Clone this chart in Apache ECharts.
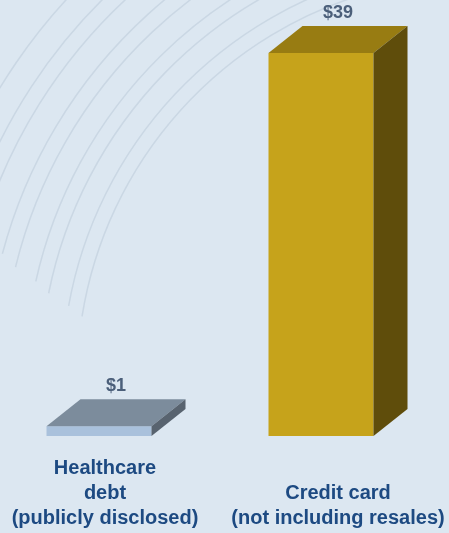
<!DOCTYPE html>
<html>
<head>
<meta charset="utf-8">
<script src="https://cdn.jsdelivr.net/npm/echarts@6/dist/echarts.min.js"></script>
<style>
  html, body { margin: 0; padding: 0; background: #dce7f1; }
  #chart { width: 449px; height: 533px; }
</style>
</head>
<body>
<div id="chart"></div>
<script>
// data (billions of dollars)
var categories = ['Healthcare\ndebt\n(publicly disclosed)', '\nCredit card\n(not including resales)'];
var values = [1, 39];
var valueLabels = ['$1', '$39'];

// face colours per bar: front, top, side
var frontColors = ['#a9c1dc', '#c6a31b'];
var topColors = ['#7c8c9c', '#987c12'];
var sideColors = ['#58636f', '#5f4d0b'];

var BAR_W = 105;
var DX = 34;
var DY = 27;

// faint background swirls
var arcs = [];
[403, 418, 440, 455, 478, 494, 520, 536, 562].forEach(function (r, i) {
  arcs.push({
    type: 'arc',
    silent: true,
    z: -10,
    shape: { cx: 480, cy: 380, r: r, startAngle: 3.3 + i * 0.02, endAngle: 4.45 + i * 0.02 },
    style: { fill: null, stroke: 'rgba(170,186,202,0.35)', lineWidth: 1.5 }
  });
});

var chart = echarts.init(document.getElementById('chart'));
var option = {
  backgroundColor: '#dce7f1',
  animation: false,
  graphic: arcs,
  grid: { left: 5, right: 0, top: 53, bottom: 97, outerBoundsMode: 'none', containLabel: false },
  xAxis: {
    type: 'category',
    data: categories.map(function (c, i) {
      return i === 0 ? { value: c, textStyle: { padding: [0, 22, 0, 0] } } : c;
    }),
    axisLine: { show: false },
    axisTick: { show: false },
    axisLabel: {
      interval: 0,
      color: '#1d4a82',
      fontFamily: 'Liberation Sans, Arial, sans-serif',
      fontWeight: 'bold',
      fontSize: 20,
      lineHeight: 25,
      margin: 20
    }
  },
  yAxis: {
    type: 'value',
    min: 0,
    max: 39,
    show: false,
    splitLine: { show: false }
  },
  series: [{
    type: 'custom',
    data: values.map(function (v, i) { return [i, v]; }),
    renderItem: function (params, api) {
      var i = params.dataIndex;
      var base = api.coord([api.value(0), 0]);
      var top = api.coord([api.value(0), api.value(1)]);
      var x0 = base[0] - (BAR_W + DX) / 2;
      var x1 = x0 + BAR_W;
      var yb = base[1];
      var yt = top[1];
      return {
        type: 'group',
        children: [
          {
            type: 'rect',
            shape: { x: x0, y: yt, width: BAR_W, height: yb - yt },
            style: { fill: frontColors[i] }
          },
          {
            type: 'polygon',
            shape: { points: [[x0, yt], [x0 + DX, yt - DY], [x1 + DX, yt - DY], [x1, yt]] },
            style: { fill: topColors[i] }
          },
          {
            type: 'polygon',
            shape: { points: [[x1, yt], [x1 + DX, yt - DY], [x1 + DX, yb - DY], [x1, yb]] },
            style: { fill: sideColors[i] }
          },
          {
            type: 'text',
            style: {
              text: valueLabels[i],
              x: base[0],
              y: yt - DY - 4,
              align: 'center',
              verticalAlign: 'bottom',
              fill: '#4b5f7a',
              font: 'bold 18px "Liberation Sans", Arial, sans-serif'
            }
          }
        ]
      };
    }
  }]
};
chart.setOption(option);
</script>
</body>
</html>
